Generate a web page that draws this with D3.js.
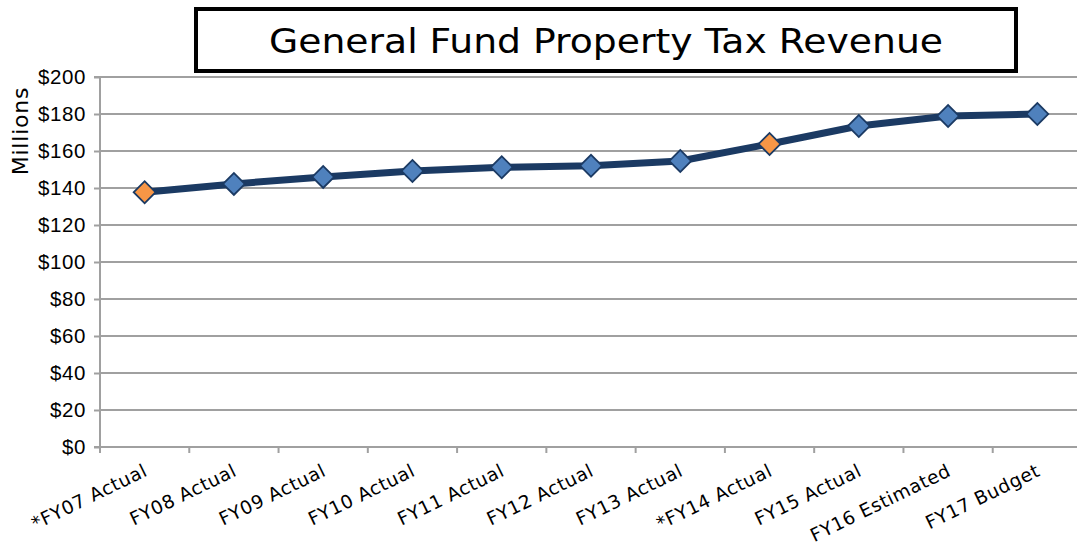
<!DOCTYPE html>
<html>
  <head>
    <meta charset="utf-8">
    <title>General Fund Property Tax Revenue</title>
    <style>
      body { margin: 0; background: #fff; }
      svg { font-family: "DejaVu Sans", sans-serif; }
      .grid line { stroke: #a0a0a0; stroke-width: 2; }
      .axis path, .axis line { stroke: #a0a0a0; stroke-width: 2; }
      .axis text { fill: #000; font-size: 20.5px; letter-spacing: 0.6px; }
      .axis text.lbl { font-size: 18.5px; letter-spacing: 0.6px; }
    </style>
  </head>
  <body>
    <div class="chart"></div>
    <script src="https://d3js.org/d3.v7.min.js"></script>
    <script>
      // chart data
      const categories = ["*FY07 Actual", "FY08 Actual", "FY09 Actual", "FY10 Actual", "FY11 Actual",
        "FY12 Actual", "FY13 Actual", "*FY14 Actual", "FY15 Actual", "FY16 Estimated", "FY17 Budget"];
      const revenue = [137.7, 142.2, 146, 149.2, 151.2, 152, 154.6, 163.8, 173.5, 178.9, 180];
      const highlighted = ["*FY07 Actual", "*FY14 Actual"];
      const yTicks = [0, 20, 40, 60, 80, 100, 120, 140, 160, 180, 200];

      const W = 1077, H = 548;
      const margin = { top: 77, right: -5, bottom: 101, left: 100 };
      const width = W - margin.left - margin.right;
      const height = H - margin.top - margin.bottom;

      const svg = d3.select(".chart").append("svg")
        .attr("width", W).attr("height", H);

      // title box
      svg.append("rect")
        .attr("x", 196).attr("y", 9).attr("width", 820).attr("height", 62)
        .attr("fill", "#fff").attr("stroke", "#000").attr("stroke-width", 4);
      svg.append("text")
        .attr("x", 606).attr("y", 53)
        .attr("text-anchor", "middle")
        .style("font-size", "34px")
        .attr("textLength", 674)
        .attr("lengthAdjust", "spacingAndGlyphs")
        .text("General Fund Property Tax Revenue");

      const g = svg.append("g")
        .attr("transform", `translate(${margin.left},${margin.top})`);

      const x = d3.scaleBand().domain(categories).range([0, width]);
      const y = d3.scaleLinear().domain([0, 200]).range([height, 0]);

      // gridlines
      g.append("g").attr("class", "grid")
        .selectAll("line").data(yTicks.filter(d => d > 0)).join("line")
        .attr("x1", 0).attr("x2", width)
        .attr("y1", d => y(d)).attr("y2", d => y(d));

      // y axis
      const yAxis = g.append("g").attr("class", "axis")
        .call(d3.axisLeft(y).tickValues(yTicks).tickSize(6).tickPadding(8)
          .tickFormat(d => "$" + d));
      yAxis.select(".domain").attr("d", `M-6,${height}H0V0H-6`);

      // x axis with ticks at band boundaries
      const xAxis = g.append("g").attr("class", "axis")
        .attr("transform", `translate(0,${height})`);
      xAxis.append("line").attr("x1", 0).attr("x2", width).attr("y1", 0).attr("y2", 0);
      xAxis.selectAll(".tk").data(d3.range(categories.length)).join("line")
        .attr("class", "tk")
        .attr("x1", i => x(categories[i])).attr("x2", i => x(categories[i]))
        .attr("y1", 0).attr("y2", 6);
      xAxis.selectAll(".lbl").data(categories).join("text")
        .attr("class", "lbl")
        .attr("text-anchor", "end")
        .attr("transform", d => `translate(${x(d) + x.bandwidth() / 2 + 4},${28}) rotate(-26)`)
        .text(d => d);

      // y axis title
      svg.append("text")
        .attr("transform", "translate(28,131) rotate(-90)")
        .attr("text-anchor", "middle")
        .style("font-size", "22px")
        .style("letter-spacing", "0.8px")
        .text("Millions");

      const cx = d => x(d) + x.bandwidth() / 2;

      // line
      g.append("path")
        .datum(categories)
        .attr("fill", "none")
        .attr("stroke", "#1b3a63")
        .attr("stroke-width", 7)
        .attr("stroke-linejoin", "round")
        .attr("d", d3.line().x(d => cx(d)).y((d, i) => y(revenue[i])));

      // diamond markers
      g.selectAll(".dot").data(categories).join("path")
        .attr("class", "dot")
        .attr("transform", (d, i) => `translate(${cx(d)},${y(revenue[i])}) rotate(45)`)
        .attr("d", d3.symbol().type(d3.symbolSquare).size(240))
        .attr("fill", d => highlighted.includes(d) ? "#f79646" : "#4f81bd")
        .attr("stroke", "#1b3a63")
        .attr("stroke-width", 1.8);
    </script>
  </body>
</html>
